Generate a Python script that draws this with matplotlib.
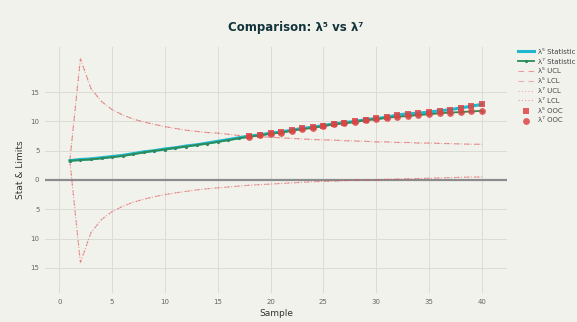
import matplotlib
matplotlib.use("Agg")
import matplotlib.pyplot as plt
from matplotlib.ticker import FuncFormatter

samples = list(range(1, 41))

lam5_stat = [3.3, 3.5, 3.6, 3.8, 4.0, 4.2, 4.5, 4.8, 5.0, 5.3,
             5.5, 5.8, 6.0, 6.3, 6.6, 6.9, 7.2, 7.5, 7.7, 8.0,
             8.2, 8.5, 8.8, 9.0, 9.3, 9.6, 9.8, 10.0, 10.3, 10.5,
             10.7, 11.1, 11.3, 11.4, 11.6, 11.8, 12.0, 12.3, 12.6, 12.9]
lam7_stat = [3.3, 3.4, 3.5, 3.7, 3.9, 4.1, 4.4, 4.7, 5.0, 5.2,
             5.5, 5.7, 6.0, 6.2, 6.5, 6.8, 7.1, 7.4, 7.6, 7.9,
             8.1, 8.4, 8.7, 8.9, 9.2, 9.5, 9.7, 9.9, 10.2, 10.4,
             10.6, 10.8, 10.9, 11.1, 11.2, 11.4, 11.5, 11.6, 11.7, 11.8]

lam5_ucl = [3.3, 20.7, 15.6, 13.4, 12.0, 11.1, 10.4, 9.9, 9.5, 9.1,
            8.8, 8.5, 8.3, 8.1, 8.0, 7.8, 7.6, 7.5, 7.4, 7.3,
            7.2, 7.1, 7.0, 6.9, 6.85, 6.8, 6.7, 6.65, 6.6, 6.5,
            6.5, 6.4, 6.4, 6.3, 6.3, 6.25, 6.2, 6.15, 6.1, 6.1]
lam5_lcl = [3.3, -14.1, -9.0, -6.75, -5.4, -4.5, -3.8, -3.3, -2.85, -2.5,
            -2.2, -1.95, -1.7, -1.5, -1.35, -1.2, -1.05, -0.9, -0.8, -0.7,
            -0.6, -0.5, -0.4, -0.3, -0.25, -0.2, -0.1, -0.05, 0.0, 0.05,
            0.1, 0.15, 0.2, 0.25, 0.3, 0.35, 0.4, 0.45, 0.5, 0.5]
lam7_ucl = list(lam5_ucl)
lam7_lcl = list(lam5_lcl)

# out-of-control samples (both series)
ooc_samples = list(range(18, 41))

x_ticks = [0, 5, 10, 15, 20, 25, 30, 35, 40]
y_ticks = [-15, -10, -5, 0, 5, 10, 15]

bg = "#f2f2ed"
cyan = "#1fb8cd"
green = "#2e8b57"
red = "#db4545"

fig = plt.figure(figsize=(5.77, 3.22), dpi=100, facecolor=bg)
ax = fig.add_axes([0.078, 0.09, 0.801, 0.764], facecolor=bg)

ax.axhline(0, color="#8c8c8c", lw=1.6, zorder=1)

ax.plot(samples, lam5_stat, color=cyan, lw=2.2, label="λ⁵ Statistic", zorder=3)
ax.plot(samples, lam7_stat, color=green, lw=1.3, marker="o", markersize=1.3,
        label="λ⁷ Statistic", zorder=3)
ax.plot(samples, lam5_ucl, color=red, lw=0.8, ls=(0, (5, 4)), alpha=0.5, label="λ⁵ UCL", zorder=2)
ax.plot(samples, lam5_lcl, color=red, lw=0.8, ls=(0, (5, 4)), alpha=0.4, label="λ⁵ LCL", zorder=2)
ax.plot(samples, lam7_ucl, color=red, lw=0.8, ls=(0, (1, 2)), alpha=0.4, label="λ⁷ UCL", zorder=2)
ax.plot(samples, lam7_lcl, color=red, lw=0.8, ls=(0, (1, 2)), alpha=0.5, label="λ⁷ LCL", zorder=2)

ooc5 = [lam5_stat[s - 1] for s in ooc_samples]
ooc7 = [lam7_stat[s - 1] for s in ooc_samples]
ax.scatter(ooc_samples, ooc5, marker="s", s=22, color=red, alpha=0.85, lw=0, label="λ⁵ OOC", zorder=4)
ax.scatter(ooc_samples, ooc7, marker="o", s=24, color=red, alpha=0.85, lw=0, label="λ⁷ OOC", zorder=4)

ax.set_xlim(-1.35, 42.4)
ax.set_ylim(-19.3, 22.7)
ax.set_xticks(x_ticks)
ax.set_yticks(y_ticks)
ax.yaxis.set_major_formatter(FuncFormatter(lambda v, p: str(abs(int(v)))))
ax.grid(True, color="#dcdcd7", lw=0.7)
ax.set_axisbelow(True)
for sp in ax.spines.values():
    sp.set_visible(False)
ax.tick_params(length=0, labelsize=5, colors="#666666", pad=4)

ax.set_xlabel("Sample", fontsize=6.5, color="#333333", labelpad=3)
ax.set_ylabel("Stat & Limits", fontsize=6.5, color="#333333", labelpad=4)
fig.suptitle("Comparison: λ⁵ vs λ⁷", x=0.513, y=0.935, fontsize=8.5,
             fontweight="bold", color="#13343b")

leg = ax.legend(loc="upper left", bbox_to_anchor=(1.015, 1.01), frameon=False,
                fontsize=5, handlelength=2.3, labelspacing=0.55, handletextpad=0.5,
                borderaxespad=0.2)
for t in leg.get_texts():
    t.set_color("#444444")

fig.savefig("out.png", dpi=100, facecolor=bg)
